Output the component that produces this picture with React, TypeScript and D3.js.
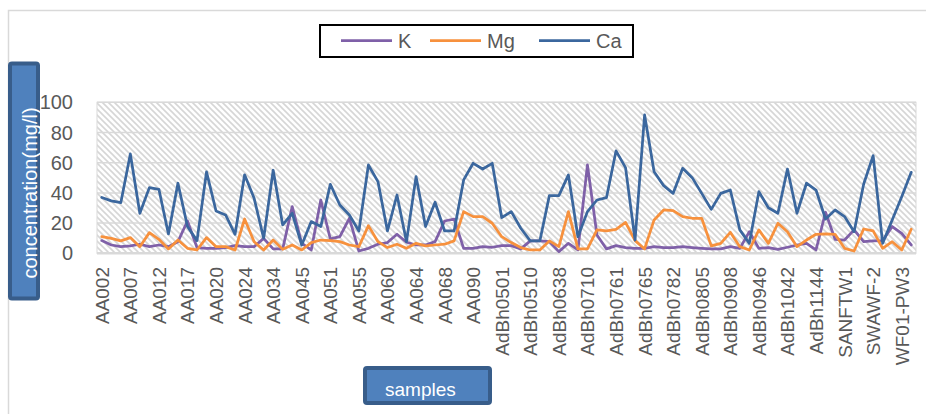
import React from "react";
import * as d3 from "d3";

// sample ids shown on the axis (every third sample is labelled)
const tickLabels = [
  "AA002", "AA007", "AA012", "AA017", "AA020", "AA024", "AA034", "AA045",
  "AA051", "AA055", "AA060", "AA064", "AA068", "AA090", "AdBh0501", "AdBh0510",
  "AdBh0638", "AdBh0710", "AdBh0761", "AdBh0765", "AdBh0782", "AdBh0805",
  "AdBh0908", "AdBh0946", "AdBh1042", "AdBh1144", "SANFTW1", "SWAWF-2", "WF01-PW3",
];
const labelEvery = 3;

// concentrations (mg/l), one value per sample
const K = [
  8.4, 5.5, 4.4, 4.9, 6, 4.4, 5.5, 4.4, 7.7, 21.4, 3.8, 3.3, 3.3, 3.8, 5.1, 4.4, 4.4, 9.9,
  2.9, 2.9, 30.9, 6.6, 2.2, 35.3, 9.5, 11, 23.2, 1.5, 3.3, 6, 7.1, 12.6, 7.3, 5.5, 5.5,
  7.7, 21.4, 22.7, 3.3, 3.3, 4.4, 4, 5.1, 5.1, 2.9, 8.2, 8.2, 7.7, 1.1, 6.6, 2.2, 58.5,
  12.1, 2.9, 5.1, 3.8, 3.3, 3.3, 4.4, 3.8, 3.8, 4.4, 3.8, 3.3, 2.9, 2.9, 4.4, 3.3, 14.3,
  3.3, 3.8, 2.6, 4, 5.5, 6.6, 2.2, 27.2, 9.3, 8.8, 15.5, 7.7, 8.2, 8.4, 17.7, 13.2, 5.5,
];
const Mg = [
  11, 9.9, 8.2, 10.4, 4.4, 13.7, 9.3, 2.9, 8.8, 3.3, 2.2, 10.4, 4.4, 4.4, 2.2, 22.7, 7.7, 2.2,
  8.8, 2.6, 5.5, 2.2, 7.1, 8.8, 8.4, 7.7, 5.5, 4.4, 18.3, 7.7, 3.8, 6, 3.3, 6.6, 4.9,
  5.5, 6, 8.2, 27.6, 24.3, 24.3, 19.9, 11, 7.1, 3.8, 2.2, 2.2, 8.2, 4.4, 27.6, 2.9, 2.9,
  15.5, 14.8, 15.9, 20.5, 8.4, 2.9, 22.1, 28.7, 28.3, 24.3, 23.2, 23.2, 4.9, 6.6, 13.9, 4.4, 2.2,
  15.5, 6.6, 19.9, 14.3, 4.4, 8.8, 12.6, 12.8, 12.6, 3.3, 1.5, 16.1, 14.8, 3.3, 7.7, 2.2, 15.9,
];
const Ca = [
  37, 34.7, 33.5, 65.8, 26.5, 43.5, 42.4, 12.8, 46.4, 17.7, 8.4, 53.9, 28, 25.4, 12.6, 52, 36.4, 10,
  55, 18.8, 26.5, 5.5, 21, 17.7, 45.7, 32, 25.4, 14.8, 58.5, 47.5, 14.8, 38.6, 7.7, 50.8, 17.7,
  33.8, 14.8, 14.8, 48.6, 59.6, 55.8, 59.6, 23.6, 27.6, 16.6, 8.2, 8.2, 38.2, 38.2, 51.9, 11, 27.6,
  35.3, 36.9, 67.8, 56.7, 8.8, 91.6, 54, 44.8, 39.7, 56.3, 50.1, 39.7, 29.1, 39.7, 41.9, 15.5, 6.6,
  40.8, 30.2, 26.5, 55.8, 26.5, 46.4, 41.9, 22.7, 28.7, 24.3, 14.3, 45.7, 64.7, 6.6, 22.1, 37.5, 53.6,
];
const yTicks = [0, 20, 40, 60, 80, 100];

const series = [
  { name: "K", values: K, color: "#7f60a8" },
  { name: "Mg", values: Mg, color: "#f7913d" },
  { name: "Ca", values: Ca, color: "#3b679e" },
];

const W = 926;
const H = 414;
const plot = { left: 97, right: 916, top: 102.3, bottom: 253.3 };
const font = "'Liberation Sans', Arial, sans-serif";
const textGray = "#595959";
const boxFill = "#4f81bd";
const boxStroke = "#385d8a";

export default function App() {
  const x = d3
    .scaleBand<number>()
    .domain(d3.range(K.length))
    .range([plot.left, plot.right]);
  const cx = (i: number) => (x(i) ?? 0) + x.bandwidth() / 2;
  const y = d3.scaleLinear().domain([0, 100]).range([plot.bottom, plot.top]);

  const line = d3
    .line<number>()
    .x((_, i) => cx(i))
    .y((d) => y(d));

  return (
    <svg
      width={W}
      height={H}
      style={{ position: "absolute", left: 0, top: 0, background: "#fff" }}
    >
      <defs>
        <pattern id="hatch" patternUnits="userSpaceOnUse" width={6} height={6}>
          <rect width={6} height={6} fill="#fff" />
          <path d="M0,0 L6,6 M-3,3 L3,9 M3,-3 L9,3" stroke="#d6d6d6" strokeWidth={1.6} />
        </pattern>
      </defs>

      {/* chart frame */}
      <rect x={8.5} y={10.5} width={W + 20} height={H + 20} fill="none" stroke="#d9d9d9" strokeWidth={1.5} />

      {/* plot area */}
      <rect
        x={plot.left}
        y={plot.top}
        width={plot.right - plot.left}
        height={plot.bottom - plot.top}
        fill="url(#hatch)"
        stroke="#d9d9d9"
        strokeWidth={1}
      />
      {yTicks.map((t) => (
        <line
          key={t}
          x1={plot.left}
          x2={plot.right}
          y1={y(t)}
          y2={y(t)}
          stroke="#d9d9d9"
          strokeWidth={t === 0 ? 2.5 : 1.5}
        />
      ))}

      {/* y axis labels */}
      {yTicks.map((t) => (
        <text
          key={t}
          x={73}
          y={y(t)}
          dy="0.35em"
          textAnchor="end"
          fontFamily={font}
          fontSize={20}
          fill={textGray}
        >
          {t}
        </text>
      ))}

      {/* x axis labels */}
      {tickLabels.map((lab, k) => {
        const i = k * labelEvery;
        return (
          <text
            key={lab}
            transform={`translate(${cx(i) + 7},${267}) rotate(-90)`}
            textAnchor="end"
            fontFamily={font}
            fontSize={19}
            fill={textGray}
          >
            {lab}
          </text>
        );
      })}

      {/* series */}
      {series.map((s) => (
        <path
          key={s.name}
          d={line(s.values) ?? ""}
          fill="none"
          stroke={s.color}
          strokeWidth={2.75}
          strokeLinejoin="round"
          strokeLinecap="round"
        />
      ))}

      {/* legend */}
      <rect x={320} y={25} width={313} height={32} fill="#fff" stroke="#000" strokeWidth={2} />
      {series.map((s, k) => {
        const lx = [341, 430, 539][k];
        return (
          <g key={s.name}>
            <line x1={lx} x2={lx + 51} y1={40.5} y2={40.5} stroke={s.color} strokeWidth={2.75} />
            <text x={lx + 57} y={48} fontFamily={font} fontSize={20} fill={textGray}>
              {s.name}
            </text>
          </g>
        );
      })}

      {/* y axis title box */}
      <rect x={10} y={63.5} width={28} height={235} rx={2} fill={boxFill} stroke={boxStroke} strokeWidth={4} />
      <text
        transform="translate(37,193) rotate(-90)"
        textAnchor="middle"
        fontFamily={font}
        fontSize={20}
        fill="#fff"
      >
        concentration(mg/l)
      </text>

      {/* x axis title box */}
      <rect x={365} y={368} width={125} height={35} rx={2} fill={boxFill} stroke={boxStroke} strokeWidth={4} />
      <text x={385} y={396} fontFamily={font} fontSize={19} fill="#fff">
        samples
      </text>
    </svg>
  );
}
